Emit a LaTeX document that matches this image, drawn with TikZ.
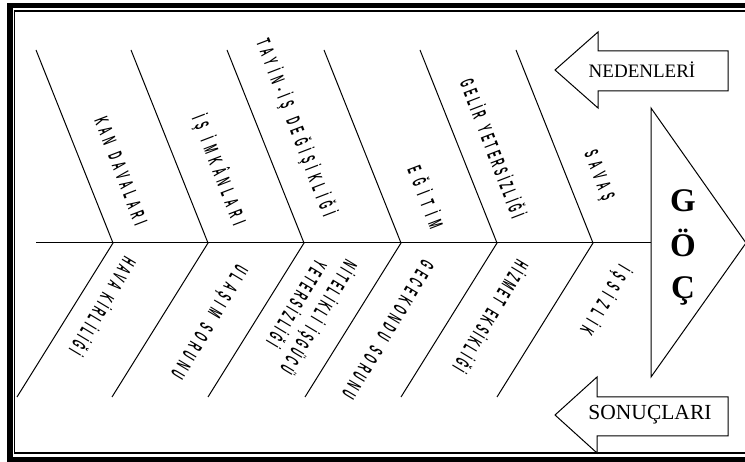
\documentclass[tikz,border=0pt]{standalone}
\usepackage{fontspec}
\setmainfont{Liberation Serif}
\newfontfamily\condfont[FakeStretch=0.42]{Liberation Sans Bold}
\newcommand\wsp{\ \hspace{3pt}}
\begin{document}
\begin{tikzpicture}[x=1pt,y=-1pt,
  bone/.style={line width=1pt},
  lab/.style={font={\condfont\fontsize{20}{26}\selectfont\addfontfeatures{LetterSpace=#1}}, inner sep=0pt, align=center},
  toplab/.style={lab=#1, rotate=-69},
  botlab/.style={lab=#1, rotate=-121},
  bigarrow/.style={line width=1pt, fill=white},
  arrowtext/.style={inner sep=0pt},
  goc/.style={font=\bfseries\fontsize{33}{40}\selectfont, inner sep=0pt, anchor=base}]
\useasboundingbox (0,0) rectangle (745,462);
% frame
\draw[line width=5.5pt] (9.75,5.75) rectangle (770,459.5);
\draw[line width=1.2pt] (14.5,11) rectangle (765,453);
% spine and bones
\coordinate (spL) at (36,243);
\coordinate (triL) at (651,243);
\coordinate (triT) at (651,108);
\coordinate (triB) at (651,377);
\coordinate (triR) at (746,243);
\draw[bone] (spL) -- (triL);
\foreach \i/\sx in {1/113,2/208,3/304,4/401,5/497,6/593}{
  \coordinate (s\i) at (\sx,243);
  \coordinate (t\i) at ({\sx-77},50);
  \coordinate (b\i) at ({\sx-96},397);
  \draw[bone] (t\i) -- (s\i) -- (b\i);
}
% head triangle
\draw[line width=1pt] (triT) -- (triR) -- (triB) -- cycle;
\node[goc] (g1) at (683,212) {G};
\node[goc] (g2) at (683,257) {Ö};
\node[goc] (g3) at (683,299) {Ç};
% top labels (causes)
\node[toplab=24] (c1) at (121,171) {KAN\wsp DAVALARI};
\node[toplab=28] (c2) at (219,170) {İŞ\wsp İMKÂNLARI};
\node[toplab=27] (c3) at (296,128) {TAYİN-İŞ\wsp DEĞİŞİKLİĞİ};
\node[toplab=36] (c4) at (427,197) {EĞİTİM};
\node[toplab=18] (c5) at (494,148) {GELİR\wsp YETERSİZLİĞİ};
\node[toplab=30] (c6) at (598,176) {SAVAŞ};
% bottom labels (results)
\node[botlab=18] (r1) at (104,307) {HAVA\wsp KİRLİLİĞİ};
\node[botlab=25] (r2) at (208,321) {ULAŞIM\wsp SORUNU};
\node[botlab=18] (r3) at (309,311) {NİTELİKLİ\wsp İŞGÜCÜ\\YETERSİZLİĞİ};
\node[botlab=22] (r4) at (388,330) {GECEKONDU\wsp SORUNU};
\node[botlab=17] (r5) at (492,317) {HİZMET\wsp EKSİKLİĞİ};
\node[botlab=30] (r6) at (605,300) {İŞSİZLİK};
% arrows
\draw[bigarrow] (555,70) -- (598,32) -- (598,51) -- (728,51) -- (728,91) -- (598,91) -- (598,108) -- cycle;
\node[arrowtext, font=\fontsize{19}{22}\selectfont] (ned) at (642,70) {NEDENLERİ};
\draw[bigarrow] (555,415) -- (597,377) -- (597,397) -- (728,397) -- (728,436) -- (597,436) -- (597,453) -- cycle;
\node[arrowtext, font=\fontsize{21.5}{24}\selectfont] (son) at (650,415) {SONUÇLARI};
\end{tikzpicture}
\end{document}
